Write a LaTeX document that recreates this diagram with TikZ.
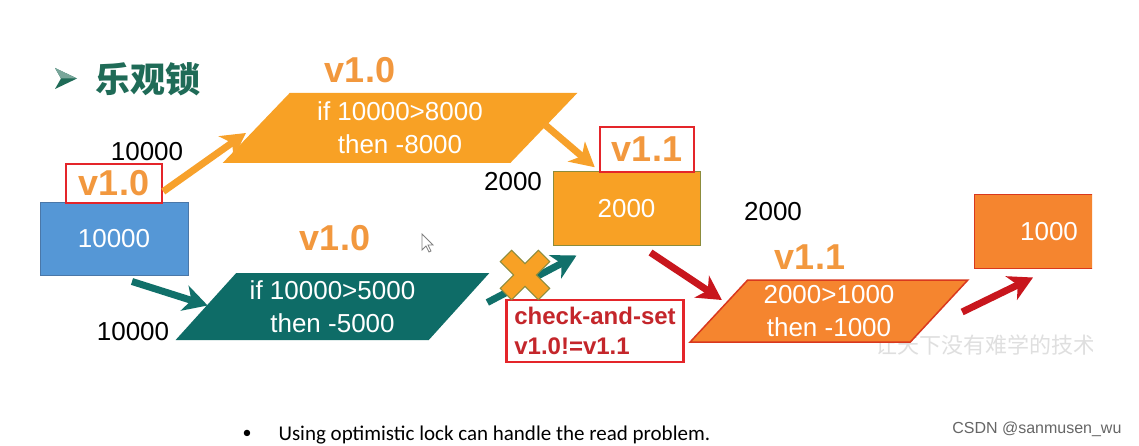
\documentclass[tikz,border=0pt]{standalone}
\usepackage{fontspec}
\setmainfont{Liberation Sans}
\newfontfamily\cjkfont{Noto Sans CJK SC}
\newfontfamily\notefont{Carlito}
\usetikzlibrary{shapes.geometric,arrows.meta}
\definecolor{boxblue}{HTML}{5597D6}
\definecolor{boxblueline}{HTML}{4A77A8}
\definecolor{planorange}{HTML}{F8A125}
\definecolor{planteal}{HTML}{0E6C67}
\definecolor{plandark}{HTML}{F5852F}
\definecolor{plandarkline}{HTML}{D9381E}
\definecolor{oliveline}{HTML}{8C8C3C}
\definecolor{arroworange}{HTML}{F7A12B}
\definecolor{arrowteal}{HTML}{11706A}
\definecolor{arrowred}{HTML}{C8161D}
\definecolor{tagorange}{HTML}{F2983E}
\definecolor{framered}{HTML}{E4252A}
\definecolor{checkred}{HTML}{C4262B}
\definecolor{titlegreen}{HTML}{1F6B57}

\begin{document}
\begin{tikzpicture}
        [ x=1pt, y=-1pt,
          value box/.style = {draw, line width=1pt, text=white, inner sep=0pt,
                              font=\fontsize{26}{30}\selectfont},
          plan shape/.style = {trapezium, trapezium stretches=true, text=white,
                               align=center, inner sep=0pt,
                               font=\fontsize{26}{33}\selectfont},
          version tag/.style = {text=tagorange, font=\bfseries\fontsize{36}{40}\selectfont},
          tag frame/.style = {draw=framered, line width=2.5pt, inner sep=0pt},
          plain label/.style = {font=\fontsize{26}{30}\selectfont},
          flow arrow/.style = {line width=7pt, -{Stealth[length=24pt,width=26pt,inset=7pt]}}]
        \useasboundingbox[fill=white] (0,0) rectangle (1139,446);

        % title
        \fill[titlegreen] (55,68) -- (77,78.5) -- (55,89) -- (61,78.5) -- cycle;
        \fill[titlegreen!60] (55,68) -- (77,78.5) -- (61,78.5) -- cycle;
        \node (title) at (148,79) [text=titlegreen, font=\cjkfont\bfseries\fontsize{35}{40}\selectfont] {乐观锁};

        % first thread
        \node (start) at (114,239) [value box, fill=boxblue, draw=boxblueline,
              minimum width=148pt, minimum height=72pt] {10000};
        \node (tag1) at (114,183.5) [version tag, tag frame, minimum width=96pt, minimum height=39pt] {v1.0};
        \node (read1) at (147,152) [plain label] {10000};
        \node (plan1) at (400,128) [plan shape, fill=planorange, trapezium left angle=46,
              trapezium right angle=134, minimum width=355pt, minimum height=70pt]
              {if 10000>8000\\then -8000};
        \node (ver1) at (360,70) [version tag] {v1.0};
        \node (mid) at (626.5,208.5) [value box, fill=planorange, draw=oliveline,
              minimum width=147pt, minimum height=73pt] {2000};
        \node (tag2) at (647,149.5) [version tag, tag frame, minimum width=94pt, minimum height=45pt] {v1.1};
        \node (read2) at (513,182) [plain label] {2000};

        % second thread
        \node (read3) at (133,332) [plain label] {10000};
        \node (plan2) at (332.5,306.5) [plan shape, fill=planteal, trapezium left angle=45,
              trapezium right angle=135, minimum width=315pt, minimum height=67pt]
              {if 10000>5000\\then -5000};
        \node (ver2) at (335,238) [version tag] {v1.0};
        \node (check) at (595,331) [tag frame, text=checkred, align=left, minimum width=177pt,
              minimum height=62pt, font=\bfseries\fontsize{24}{30}\selectfont]
              {check-and-set\\v1.0!=v1.1};

        % retry
        \node (read4) at (773,212) [plain label] {2000};
        \begin{scope}
          \clip (0,0) rectangle (1092,446);
          \node (mark) at (985,345) [text=gray!25, font=\cjkfont\fontsize{22}{24}\selectfont] {让天下没有难学的技术};
          \node (final) at (1049,231.5) [value box, fill=plandark, draw=plandarkline,
                minimum width=150pt, minimum height=73pt] {1000};
        \end{scope}
        \node (plan3) at (829,311) [plan shape, fill=plandark, draw=plandarkline, line width=1.5pt,
              trapezium left angle=48, trapezium right angle=132, minimum width=278pt,
              minimum height=62pt] {2000>1000\\then -1000};
        \node (ver3) at (810,257) [version tag] {v1.1};

        % arrows
        \draw[flow arrow, arroworange] ([shift={(0,8)}]tag1.east) -- ([shift={(-10,5)}]plan1.west);
        \draw[flow arrow, arroworange] ([shift={(0,-4)}]plan1.east) -- ([shift={(-4,-6)}]tag2.south west);
        \draw[flow arrow, arrowteal] ([shift={(18,6)}]start.south) -- ([shift={(2,-1)}]plan2.west);
        \draw[flow arrow, arrowteal] ([shift={(28,-4)}]plan2.east) -- ([shift={(24,10)}]mid.south west);
        \draw[flow arrow, arrowred] ([shift={(24,7)}]mid.south) -- ([shift={(4,-11)}]plan3.west);
        \draw[flow arrow, arrowred] ([shift={(22,1)}]plan3.east) -- ([shift={(-16,9)}]final.south);

        % rejected write
        \begin{scope}[shift={(525,275)}, rotate=45]
          \filldraw[fill=planorange, draw=oliveline, line width=1pt]
            (-8,-27) -- (8,-27) -- (8,-8) -- (27,-8) -- (27,8) -- (8,8) -- (8,27)
            -- (-8,27) -- (-8,8) -- (-27,8) -- (-27,-8) -- (-8,-8) -- cycle;
        \end{scope}

        % pointer
        \filldraw[fill=white, draw=gray, line width=0.8pt] (422,234) -- (422,250) -- (426,246)
          -- (429,252) -- (431,251) -- (428,245) -- (433,245) -- cycle;

        % note
        \node (dot) at (247,434) [font=\notefont\fontsize{18}{24}\selectfont] {•};
        \node (note) at (275,440) [anchor=base west, font=\notefont\fontsize{21}{24}\selectfont]
              {Using optimistic lock can handle the read problem.};
        \node (credit) at (1125,433) [anchor=base east, text=gray!80!black,
              font=\fontsize{16}{18}\selectfont] {CSDN @sanmusen\_wu};
    \end{tikzpicture}
\end{document}
